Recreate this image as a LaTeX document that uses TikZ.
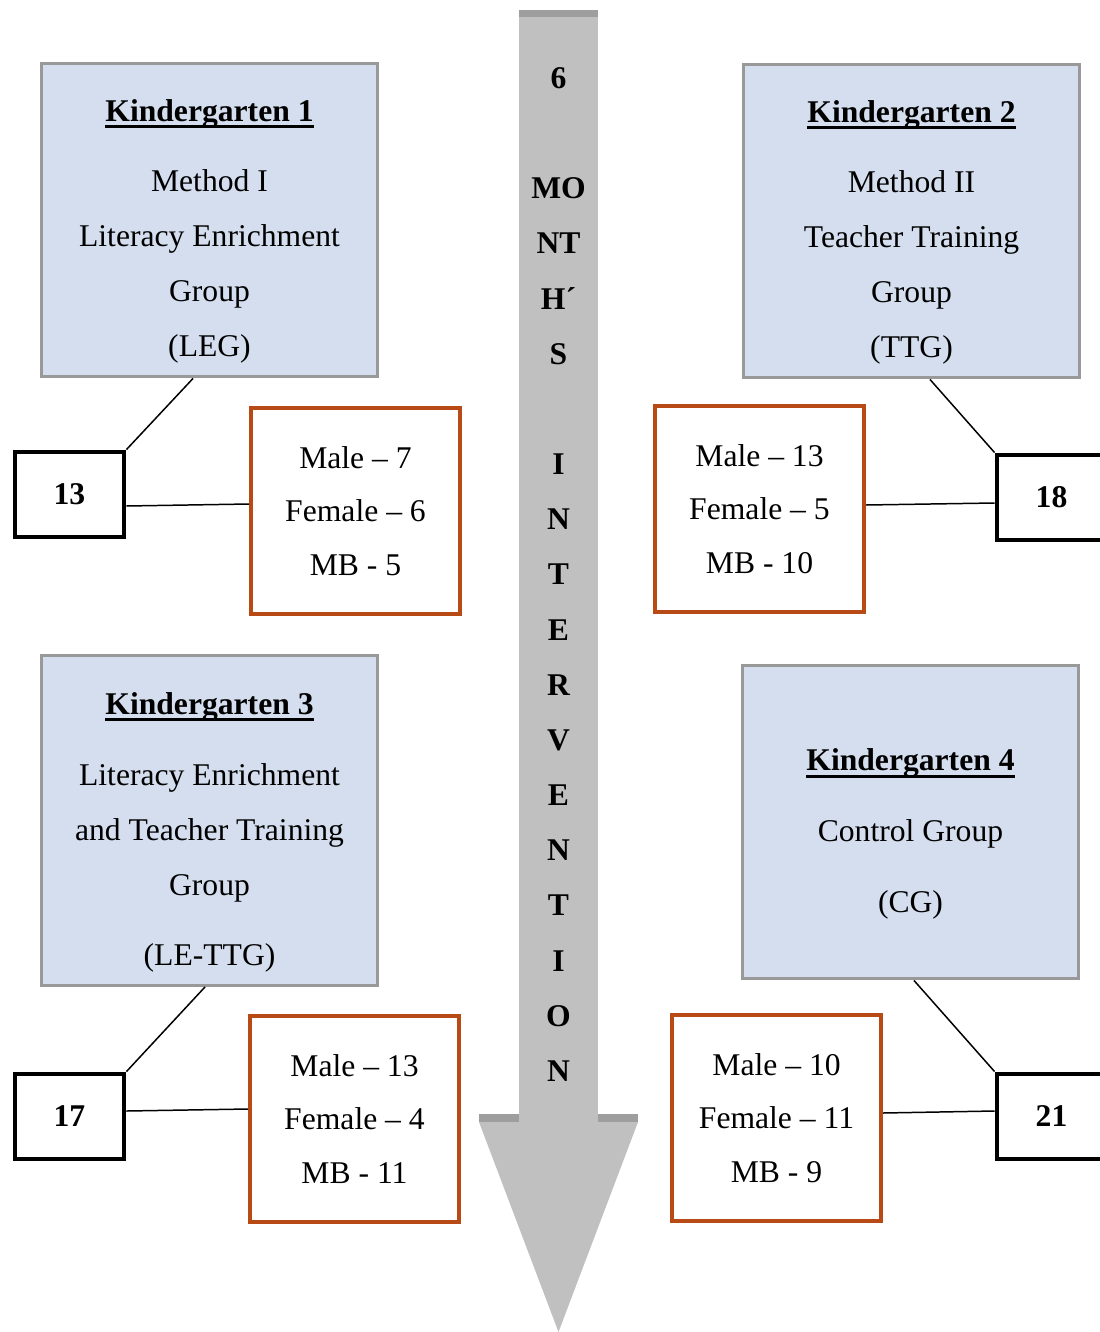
\documentclass[tikz,border=0pt]{standalone}
\usepackage{fontspec}
\setmainfont{Liberation Serif}
\usetikzlibrary{positioning, calc}
\definecolor{kgblue}{RGB}{212, 222, 238}
\definecolor{kggray}{RGB}{153, 153, 153}
\definecolor{cntorange}{RGB}{184, 74, 22}
\definecolor{arrowgray}{RGB}{192, 192, 192}
\definecolor{arrowdark}{RGB}{158, 158, 158}
\newsavebox{\kgtitlebox}
\newcommand{\kgtitle}[1]{\sbox{\kgtitlebox}{\bfseries #1}\rlap{\rule[-4pt]{\wd\kgtitlebox}{1.7pt}}\usebox{\kgtitlebox}}

\begin{document}
\begin{tikzpicture}[x=0.02cm, y=-0.02cm,
  kgbox/.style={draw=kggray, line width=1.7pt, fill=kgblue, minimum width=6.74cm, minimum height=6.28cm},
  kgtext/.style={align=center, font=\fontsize{18}{31.3}\selectfont},
  countbox/.style={draw=cntorange, line width=2.3pt, fill=white, minimum width=4.18cm, minimum height=4.12cm, align=center, font=\fontsize{18}{30.3}\selectfont},
  totalbox/.style={draw=black, line width=2.8pt, fill=white, minimum width=2.18cm, minimum height=1.7cm, font=\fontsize{18}{22}\selectfont\bfseries},
  monthtext/.style={font=\fontsize{18}{22}\selectfont\bfseries},
  link/.style={black, line width=0.85pt}]
  \useasboundingbox (0,0) rectangle (1099,1332);

  % intervention arrow
  \fill[arrowgray] (519,10) rectangle (598,1122);
  \fill[arrowdark] (519,10) rectangle (598,17);
  \fill[arrowdark] (479,1114) rectangle (519,1122);
  \fill[arrowdark] (598,1114) rectangle (638,1122);
  \fill[arrowgray] (479,1122) -- (638,1122) -- (558.5,1332) -- cycle;
  \foreach \k/\ltr in {0/6, 2/MO, 3/NT, 4/H´, 5/S, 7/I, 8/N, 9/T, 10/E, 11/R, 12/V, 13/E, 14/N, 15/T, 16/I, 17/O, 18/N}
    \node[monthtext] (m\k) at (558.5,{78+55.17*\k}) {\ltr};

  % kindergartens
  \node[kgbox] (kg1) at (209.5,220) {};
  \node[kgtext] (kg1text) at ($(kg1)+(0,11)$) {\kgtitle{Kindergarten 1}\\[8.5pt]
    Method I\\ Literacy Enrichment\\ Group\\ (LEG)};

  \node[kgbox] (kg2) at (911.5,221) {};
  \node[kgtext] (kg2text) at ($(kg2)+(0,11)$) {\kgtitle{Kindergarten 2}\\[8.5pt]
    Method II\\ Teacher Training\\ Group\\ (TTG)};

  \node[kgbox, minimum height=6.6cm] (kg3) at (209.5,820.5) {};
  \node[kgtext] (kg3text) at ($(kg3)+(0,12)$) {\kgtitle{Kindergarten 3}\\[9pt]
    Literacy Enrichment\\ and Teacher Training\\ Group\\[9pt] (LE-TTG)};

  \node[kgbox] (kg4) at (910.5,822) {};
  \node[kgtext] (kg4text) at ($(kg4)+(0,12)$) {\kgtitle{Kindergarten 4}\\[9pt]
    Control Group\\[9pt] (CG)};

  % gender counts
  \node[countbox] (cnt1) at (355.5,511) {Male – 7\\ Female – 6\\ MB - 5};
  \node[countbox] (cnt2) at (759.5,509) {Male – 13\\ Female – 5\\ MB - 10};
  \node[countbox] (cnt3) at (354.5,1119) {Male – 13\\ Female – 4\\ MB - 11};
  \node[countbox] (cnt4) at (776.5,1118) {Male – 10\\ Female – 11\\ MB - 9};

  % totals
  \node[totalbox] (tot1) at (69.5,494.5) {13};
  \node[totalbox] (tot2) at (1051.5,497.5) {18};
  \node[totalbox] (tot3) at (69.5,1116.5) {17};
  \node[totalbox] (tot4) at (1051.5,1116.5) {21};

  % links
  \draw[link] ([xshift=-0.33cm]kg1.south) -- (tot1.north east);
  \draw[link] ([yshift=-0.23cm]tot1.east) -- ([yshift=0.14cm]cnt1.west);
  \draw[link] ([xshift=0.37cm]kg2.south) -- (tot2.north west);
  \draw[link] ([yshift=0.08cm]cnt2.east) -- ([yshift=-0.11cm]tot2.west);
  \draw[link] ([xshift=-0.09cm]kg3.south) -- (tot3.north east);
  \draw[link] ([yshift=0.11cm]tot3.east) -- ([yshift=0.2cm]cnt3.west);
  \draw[link] ([xshift=0.07cm]kg4.south) -- (tot4.north west);
  \draw[link] ([yshift=0.1cm]cnt4.east) -- ([yshift=0.11cm]tot4.west);
\end{tikzpicture}
\end{document}
